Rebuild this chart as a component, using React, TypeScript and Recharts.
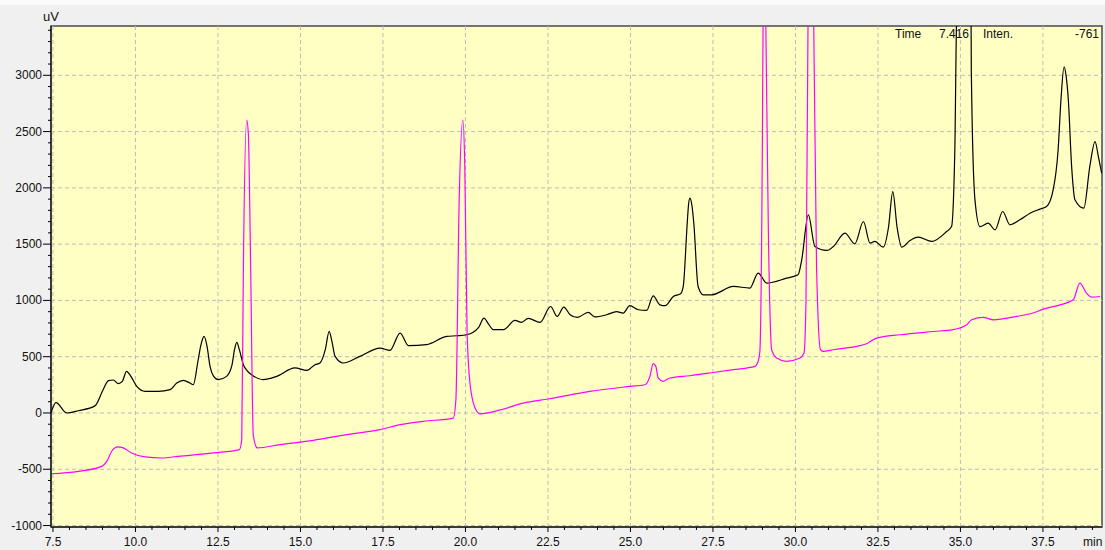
import React from 'react';
import { LineChart, Line, XAxis, YAxis, ReferenceArea, ReferenceLine } from 'recharts';

// chromatogram traces (time in min, intensity in uV)
const blackTime = [
  7.44, 7.59, 7.92, 8.27, 8.77, 9.02, 9.18, 9.33, 9.48, 9.6,
  9.73, 9.86, 10.04, 10.29, 10.69, 11.05, 11.25, 11.45, 11.65, 11.75,
  11.9, 11.98, 12.08, 12.17, 12.26, 12.36, 12.51, 12.76, 12.92, 13.0,
  13.07, 13.15, 13.27, 13.4, 13.52, 13.87, 14.28,
  14.83, 15.19, 15.44, 15.59, 15.75, 15.87, 15.95, 16.05, 16.3, 16.8, 17.41, 17.71,
  18.02, 18.27, 18.82, 19.43, 19.73, 20.04, 20.4, 20.56, 20.7, 20.84, 21.15, 21.5,
  21.7, 21.9, 22.26, 22.58, 22.78, 22.98, 23.17, 23.39, 23.72, 23.92,
  24.28, 24.58, 24.78, 24.98, 25.24, 25.49, 25.69, 25.89, 26.05, 26.3,
  26.52, 26.6, 26.72, 26.76, 26.8, 26.86, 26.92, 27.05, 27.21, 27.46, 28.12, 28.62,
  28.87, 29.13, 29.73, 30.08, 30.19, 30.39, 30.59, 30.95, 31.15, 31.5,
  31.8, 32.06, 32.26, 32.41, 32.66, 32.82, 32.95, 33.08, 33.22, 33.47, 33.72, 34.13,
  34.58, 34.73, 34.83, 34.89, 35.1, 35.32, 35.33, 35.44, 35.59, 35.84,
  36.05, 36.28, 36.5, 36.8, 37.11, 37.41, 37.61, 37.81, 37.96, 38.05, 38.14, 38.2,
  38.27, 38.37, 38.47, 38.74, 38.92, 39.08, 39.18, 39.28,
];
const blackUv = [
  0, 92, 0, 20, 63, 207, 287, 293, 260, 280,
  370, 325, 236, 192, 192, 207, 266, 290, 266, 251,
  473, 600, 680, 590, 414, 330, 296, 325, 420, 560,
  627, 560, 429, 370, 340, 296, 325,
  400, 378, 429, 444, 560, 725, 640, 503, 444, 503, 577, 556,
  710, 598, 607, 680, 686, 695, 760, 843, 790, 740, 740, 822,
  805, 840, 805, 946, 858, 941, 873, 849, 894, 853,
  873, 900, 888, 953, 917, 911, 1041, 961, 953, 1035,
  1059, 1124, 1686, 1850, 1908, 1850, 1686, 1124, 1050, 1050, 1124, 1110,
  1243, 1154, 1198, 1228, 1361, 1760, 1479, 1444, 1479, 1598,
  1503, 1701, 1509, 1524, 1473, 1650, 1967, 1650, 1473, 1532, 1562, 1524,
  1612, 1656, 2337, 3600, 4200, 3600, 3030, 1895, 1656, 1686,
  1627, 1790, 1672, 1716, 1775, 1811, 1834, 1982, 2337, 2800, 3076, 3000,
  2781, 2189, 1895, 1820, 2189, 2411, 2278, 2130,
];

const pinkTime = [
  7.44, 8.27, 8.98, 9.13, 9.28, 9.46, 9.63, 9.88, 10.29, 10.79,
  11.3, 12.36, 13.15, 13.22, 13.27, 13.37, 13.42, 13.49, 13.57, 13.69,
  14.38, 15.39, 16.4, 17.41, 18.02, 18.72, 19.63, 19.71, 19.81, 19.92,
  19.98, 20.05, 20.16, 20.34, 20.44, 21.05, 21.75, 22.51, 23.77, 24.98,
  25.44, 25.59, 25.69, 25.77, 25.84, 25.99, 26.2, 26.8, 27.41, 28.12,
  28.77, 28.86, 28.92, 29.0, 29.02, 29.06, 29.1, 29.18, 29.28, 29.43,
  29.73, 30.14, 30.26, 30.32, 30.39, 30.47, 30.54, 30.64, 30.76, 30.84,
  31.14, 31.95, 32.15, 32.46, 33.17, 34.18, 34.78, 35.19, 35.34, 35.69,
  36.0, 36.7, 37.2, 37.51, 38.02, 38.42, 38.62, 38.82, 38.97, 39.23,
];
const pinkUv = [
  -540, -518, -474, -430, -340, -302, -310, -355, -390, -400,
  -385, -355, -326, -237, 1301, 2603, 2485, 1301, -197, -310,
  -281, -243, -192, -148, -104, -74, -45, 118, 1893, 2603,
  2189, 710, 207, 15, -8, 27, 88, 124, 192, 236,
  251, 325, 438, 414, 311, 281, 311, 331, 355, 385,
  414, 450, 540, 2500, 3500, 4200, 3500, 1600, 562, 488,
  459, 488, 533, 1006, 3800, 4500, 3800, 1301, 562, 547,
  562, 598, 615, 665, 695, 724, 740, 784, 828, 849,
  828, 858, 888, 923, 961, 1006, 1154, 1065, 1030, 1035,
];

const xMajor = [7.5, 10, 12.5, 15, 17.5, 20, 22.5, 25, 27.5, 30, 32.5, 35, 37.5];
const yMajor = [-1000, -500, 0, 500, 1000, 1500, 2000, 2500, 3000];

const X_DOMAIN = [7.44, 39.29];
const Y_DOMAIN = [-1013, 3438];

const xTicks: number[] = [];
for (let t = 7.5; t <= 39.01; t += 0.5) xTicks.push(Math.round(t * 10) / 10);
const yTicks: number[] = [];
for (let v = -1000; v <= 3400; v += 100) yTicks.push(v);

const rows = [
  ...blackTime.map((t, i) => ({ t, black: blackUv[i] })),
  ...pinkTime.map((t, i) => ({ t, pink: pinkUv[i] })),
].sort((a, b) => a.t - b.t);

const isMajor = (v: number, step: number) => Math.abs(v / step - Math.round(v / step)) < 1e-6;

const XTick = (props: any) => {
  const { x, y, payload } = props;
  const major = isMajor(payload.value, 2.5);
  return (
    <g>
      <line x1={x} x2={x} y1={y} y2={y + (major ? 5 : 3)} stroke="#000" />
      {major && (
        <text x={x} y={y + 19} textAnchor="middle" fontSize={12} fill="#111">
          {payload.value.toFixed(1)}
        </text>
      )}
    </g>
  );
};

const YTick = (props: any) => {
  const { x, y, payload } = props;
  const major = isMajor(payload.value, 500);
  return (
    <g>
      <line x1={x - (major ? 8 : 3)} x2={x} y1={y} y2={y} stroke="#000" />
      {major && (
        <text x={x - 9} y={y + 4} textAnchor="end" fontSize={12} fill="#111">
          {payload.value}
        </text>
      )}
    </g>
  );
};

const txt: React.CSSProperties = { position: 'absolute', fontSize: 12, lineHeight: '12px', color: '#111' };

export default function App() {
  return (
    <div
      style={{
        position: 'absolute', left: 0, top: 0, width: 1105, height: 550,
        background: '#f0f0f0', fontFamily: '"Liberation Sans", Arial, sans-serif',
      }}
    >
      <div style={{ position: 'absolute', left: 0, top: 0, width: 1105, height: 5, background: '#fbfbfb' }} />
      <LineChart width={1105} height={550} data={rows} margin={{ top: 26, right: 3, bottom: 0, left: 0 }}>
        <XAxis
          dataKey="t" type="number" domain={X_DOMAIN} allowDataOverflow ticks={xTicks} interval={0}
          height={23} tickSize={0} tickMargin={0} tick={<XTick />} tickLine={false}
          axisLine={{ stroke: '#000' }}
        />
        <YAxis
          type="number" domain={Y_DOMAIN} allowDataOverflow ticks={yTicks} interval={0}
          width={51} tickSize={0} tickMargin={0} tick={<YTick />} tickLine={false}
          axisLine={{ stroke: '#000' }}
        />
        <ReferenceArea
          x1={X_DOMAIN[0]} x2={X_DOMAIN[1]} y1={Y_DOMAIN[0]} y2={Y_DOMAIN[1]} ifOverflow="visible"
          fill="#ffffc4" fillOpacity={1} stroke="#4a4a4a" strokeWidth={1.5}
        />
        {xMajor.map((v) => (
          <ReferenceLine key={'x' + v} x={v} stroke="#bcbcbc" strokeDasharray="4 3" />
        ))}
        {yMajor.map((v) => (
          <ReferenceLine key={'y' + v} y={v} stroke="#bcbcbc" strokeDasharray="4 3" />
        ))}
        <Line dataKey="black" stroke="#000" strokeWidth={1.2} dot={false} connectNulls type="monotoneX" isAnimationActive={false} />
        <Line dataKey="pink" stroke="#ff00ff" strokeWidth={1.2} dot={false} connectNulls type="monotoneX" isAnimationActive={false} />
      </LineChart>
      <div style={{ ...txt, left: 43, top: 11, fontSize: 13 }}>uV</div>
      <div style={{ ...txt, left: 1083, top: 536 }}>min</div>
      <div style={{ ...txt, left: 895, top: 28 }}>Time</div>
      <div style={{ ...txt, left: 930, top: 28, width: 39, textAlign: 'right' }}>7.416</div>
      <div style={{ ...txt, left: 983, top: 28 }}>Inten.</div>
      <div style={{ ...txt, left: 1040, top: 28, width: 59, textAlign: 'right' }}>-761</div>
    </div>
  );
}
